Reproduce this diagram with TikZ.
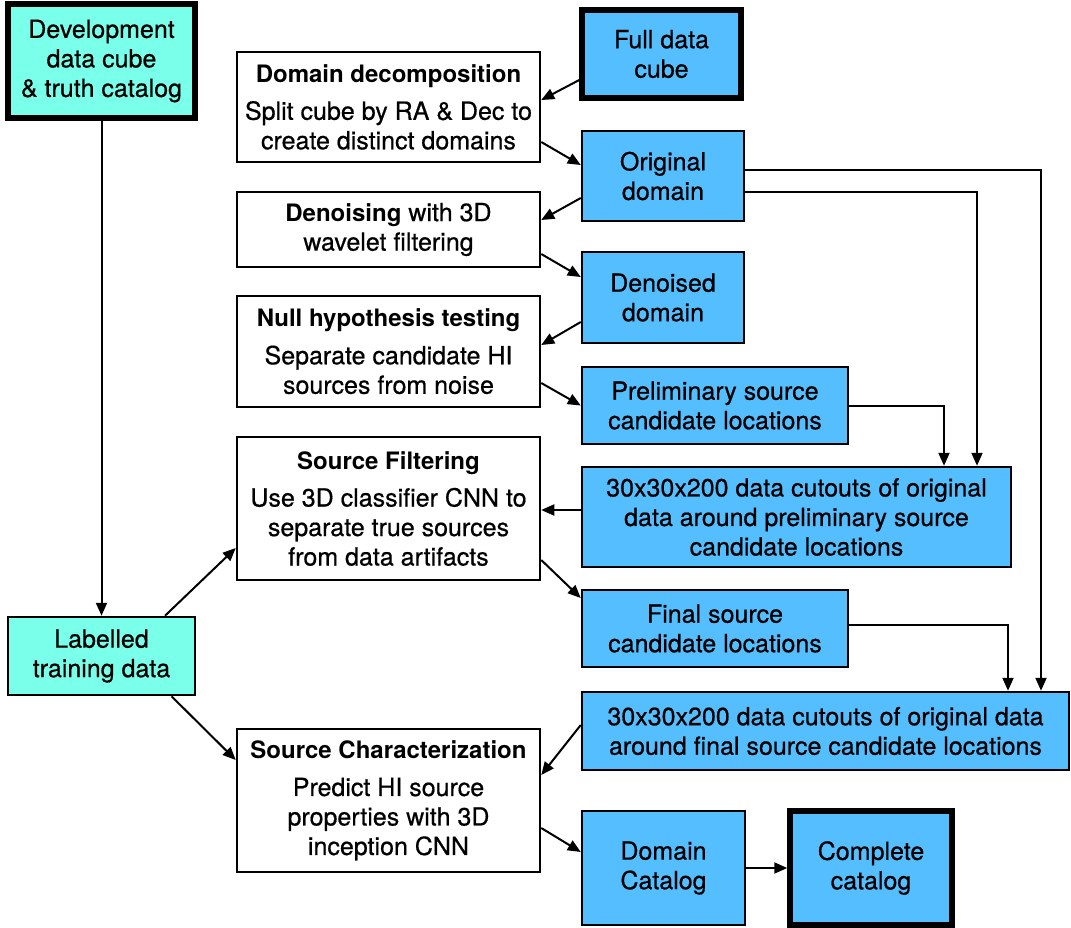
\documentclass[tikz,border=0pt]{standalone}
\usepackage{fontspec}
\setmainfont{TeX Gyre Heros}[UprightFeatures={FakeBold=0.6}]
\usetikzlibrary{arrows.meta}
\definecolor{cyanbox}{RGB}{122,255,234}
\definecolor{bluebox}{RGB}{84,190,255}
\tikzset{
  base/.style={draw=black, line width=2.5pt, inner sep=0pt, align=center,
    font=\fontsize{25}{29.5}\selectfont},
  wbox/.style={base, fill=white},
  cbox/.style={base, fill=cyanbox},
  bbox/.style={base, fill=bluebox},
  heavy/.style={line width=5.5pt},
  conn/.style={line width=2pt, -{Triangle[length=13pt,width=11pt]}},
}
\newcommand{\ttl}[1]{{\fontsize{24}{29.5}\selectfont\bfseries #1}}
\begin{document}
\begin{tikzpicture}[x=1pt,y=-1pt]
\useasboundingbox (0,0) rectangle (1071,927);

\node[cbox,heavy,minimum width=187,minimum height=114] (dev) at (101.5,61) {Development\\data cube\\\& truth catalog};
\node[cbox,minimum width=187,minimum height=78] (lab) at (101.5,656) {Labelled\\training data};

\node[wbox,minimum width=303,minimum height=110] (dd) at (388.5,107) {\ttl{Domain decomposition}\\[8pt]Split cube by RA \& Dec to\\create distinct domains};
\node[wbox,minimum width=303,minimum height=75] (den) at (388.5,229.5) {\ttl{Denoising} with 3D\\wavelet filtering};
\node[wbox,minimum width=303,minimum height=111] (nul) at (388.5,351.5) {\ttl{Null hypothesis testing}\\[8pt]Separate candidate HI\\sources from noise};
\node[wbox,minimum width=303,minimum height=143] (sf) at (388.5,508.5) {\ttl{Source Filtering}\\[8pt]Use 3D classifier CNN to\\separate true sources\\from data artifacts};
\node[wbox,minimum width=303,minimum height=143] (sc) at (388.5,800.5) {\ttl{Source Characterization}\\[8pt]Predict HI source\\properties with 3D\\inception CNN};

\node[bbox,heavy,minimum width=159,minimum height=88] (fdc) at (661.5,54) {Full data\\cube};
\node[bbox,minimum width=162,minimum height=90] (od) at (663,176) {Original\\domain};
\node[bbox,minimum width=162,minimum height=91] (dnd) at (663,297.5) {Denoised\\domain};
\node[bbox,minimum width=266,minimum height=77] (pre) at (715,405.5) {Preliminary source\\candidate locations};
\node[bbox,minimum width=429,minimum height=100] (cut1) at (796.5,517) {30x30x200 data cutouts of original\\data around preliminary source\\candidate locations};
\node[bbox,minimum width=266,minimum height=77] (fin) at (715,628.5) {Final source\\candidate locations};
\node[bbox,minimum width=487,minimum height=78] (cut2) at (825.5,731) {30x30x200 data cutouts of original data\\around final source candidate locations};
\node[bbox,minimum width=163,minimum height=114] (dcat) at (663.5,868) {Domain\\Catalog};
\node[bbox,heavy,minimum width=162,minimum height=114] (ccat) at (871,868) {Complete\\catalog};

\draw[conn] (dev.south) -- (lab.north);
\draw[conn] ([xshift=63.5pt]lab.north) -- ([yshift=-39.5pt]sf.west);
\draw[conn] ([xshift=70pt]lab.south) -- ([yshift=40.5pt]sc.west);

\draw[conn] ([yshift=-26pt]fdc.west) -- ([yshift=7pt]dd.east);
\draw[conn] ([yshift=-35pt]dd.east) -- ([yshift=11pt]od.west);
\draw[conn] ([yshift=-22pt]od.west) -- ([yshift=9.5pt]den.east);
\draw[conn] ([yshift=-24.5pt]den.east) -- ([yshift=20.5pt]dnd.west);
\draw[conn] ([yshift=-24.5pt]dnd.west) -- ([yshift=6.5pt]nul.east);
\draw[conn] ([yshift=-31.5pt]nul.east) -- (pre.west);
\draw[conn] ([yshift=7pt]cut1.west) -- ([yshift=7pt]sf.east |- cut1.west);
\draw[conn] ([yshift=-51.5pt]sf.east) -- ([yshift=30.5pt]fin.west);
\draw[conn] ([yshift=6pt]cut2.west) -- ([yshift=25.5pt]sc.east);
\draw[conn] ([yshift=-27.5pt]sc.east) -- ([yshift=16pt]dcat.west);
\draw[conn] (dcat.east) -- (ccat.west);

\draw[conn] ([yshift=6pt]od.east) -| ([xshift=215.5pt]cut2.north);
\draw[conn] ([yshift=-16pt]od.east) -| ([xshift=180.5pt]cut1.north);
\draw[conn] (pre.east) -| ([xshift=147.5pt]cut1.north);
\draw[conn] ([yshift=3.5pt]fin.east) -| ([xshift=182.5pt]cut2.north);
\end{tikzpicture}
\end{document}
